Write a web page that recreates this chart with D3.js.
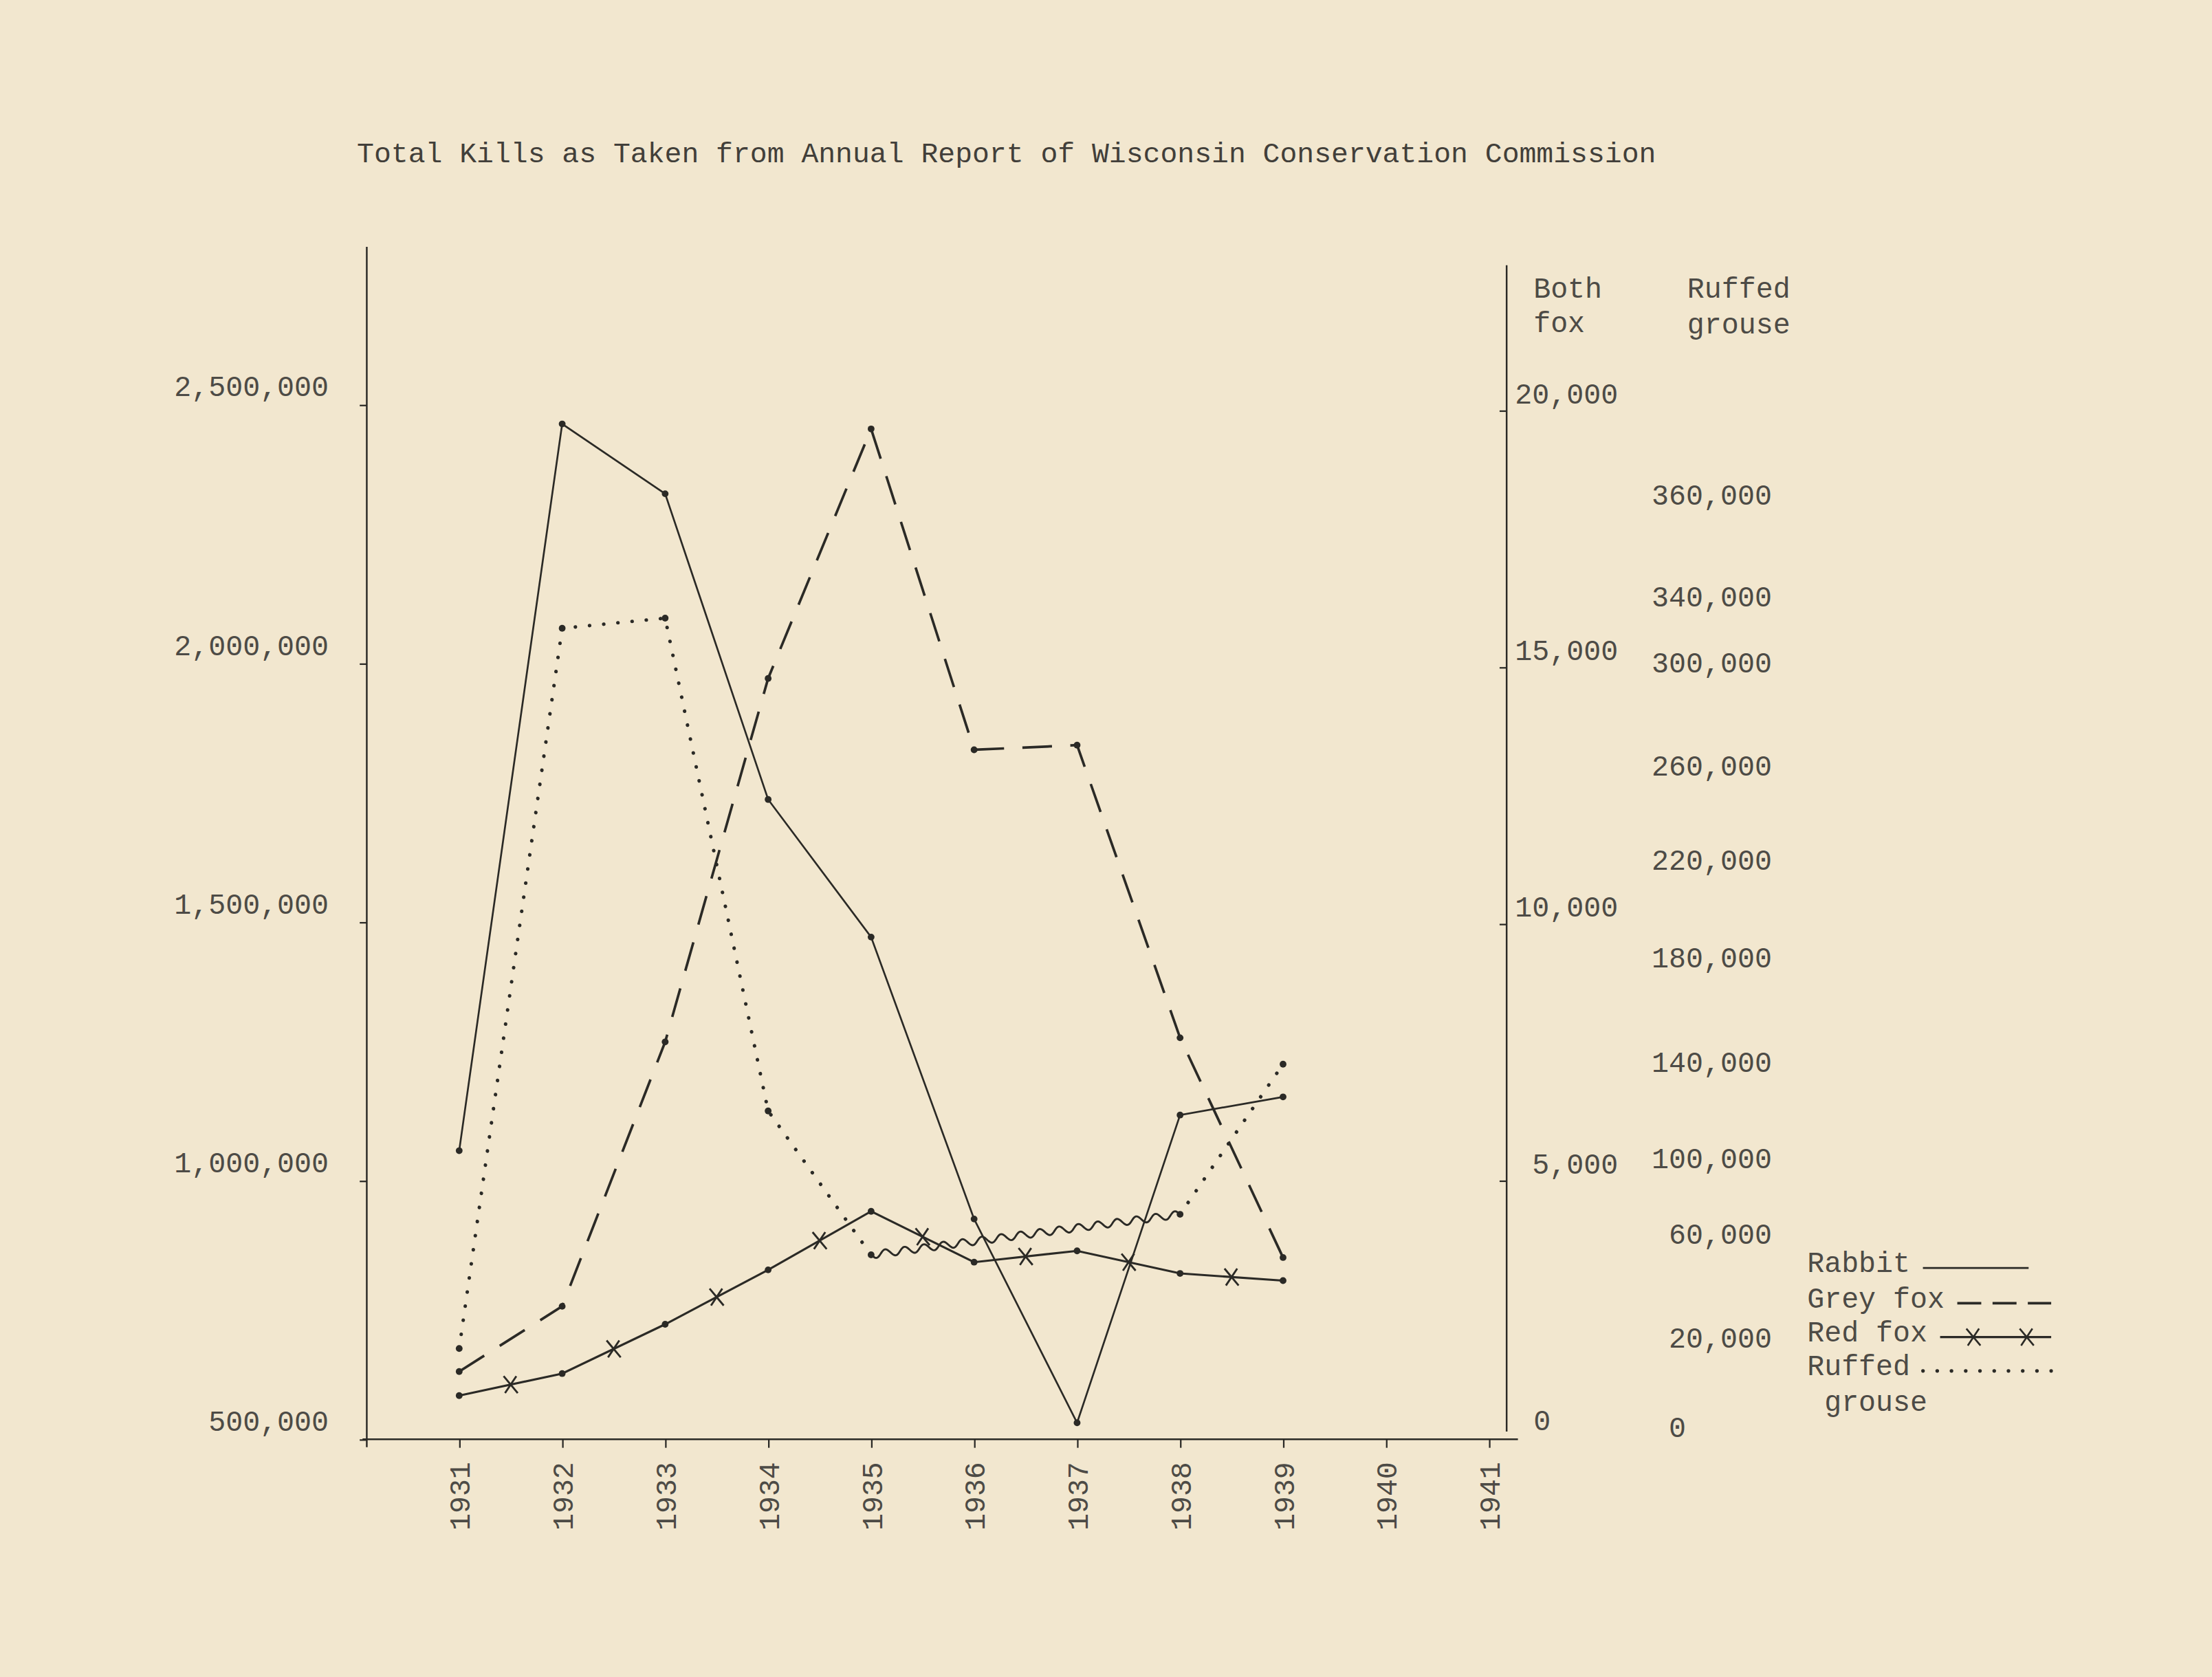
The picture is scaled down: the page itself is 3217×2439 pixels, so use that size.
<!DOCTYPE html>
<html>
<head>
<meta charset="utf-8">
<script src="https://cdn.jsdelivr.net/npm/d3@7"></script>
<style>
  html, body { margin: 0; padding: 0; background: #f2e7cf; }
  svg { display: block; }
  text { font-family: "Liberation Mono", "DejaVu Sans Mono", monospace; fill: #4d4b46; }
</style>
</head>
<body>
<div id="chart"></div>
<script>
'use strict';

// ── Data ─────────────────────────────────────────────
var years = ['1931', '1932', '1933', '1934', '1935', '1936', '1937', '1938', '1939'];
var axisYears = ['1931', '1932', '1933', '1934', '1935', '1936', '1937', '1938', '1939', '1940', '1941'];

var rabbit  = [1058000, 2463000, 2328000, 1737000, 1471000, 926000, 532000, 1127000, 1162000];
var greyFox = [1280, 2550, 7700, 14780, 19640, 13390, 13480, 7780, 3500];
var redFox  = [810, 1240, 2200, 3260, 4400, 3410, 3630, 3190, 3050];
// no grouse season 1936-37: drawn as a wavy bridge
var grouse  = [17600, 320900, 327000, 119700, 52000, null, null, 70500, 139000];

var leftTicks   = [500000, 1000000, 1500000, 2000000, 2500000];
var foxTicks    = [0, 5000, 10000, 15000, 20000];
var grouseTicks = [0, 20000, 60000, 100000, 140000, 180000, 220000, 260000, 300000, 340000, 360000];

var title = 'Total Kills as Taken from Annual Report of Wisconsin Conservation Commission';
var foxHeader = ['Both', 'fox'];
var grouseHeader = ['Ruffed', 'grouse'];
var legendLabels = [['Rabbit'], ['Grey fox'], ['Red fox'], ['Ruffed', ' grouse']];

// ── Layout (in sheet units, scaled up by the viewBox) ─
var W = 1568, H = 1189;
var INK = '#2b2a26';
var FS = 20.3;                 // typewriter pitch ~12.2 per char
var CH = FS * 0.6;
var axisX = 260, axisRightX = 1068, axisY = 1020.5;
// the grouse column was typed at uneven spacing, so its scale is piecewise
var grouseTickY = [1011.8, 948.5, 875, 821.5, 752.8, 679, 609.7, 543, 470, 423, 351];

var x = d3.scalePoint().domain(axisYears).range([325.5, 1055.5]);
var yLeft = d3.scaleLinear().domain([500000, 2500000]).range([axisY, 287]);
var yFox = d3.scaleLinear().domain([0, 20000]).range([1019, 291]);
var yGrouse = d3.scaleLinear().domain(grouseTicks).range(grouseTickY);
var fmt = d3.format(',');

var svg = d3.select('#chart').append('svg')
  .attr('width', 3217)
  .attr('height', 2439)
  .attr('viewBox', '0 0 ' + W + ' ' + H)
  .attr('preserveAspectRatio', 'none');

svg.append('rect').attr('width', W).attr('height', H).attr('fill', '#f2e7cf');

// Title
svg.append('text')
  .attr('x', 253).attr('y', 115)
  .attr('font-size', 20.2)
  .style('fill', '#423f3a')
  .text(title);

// ── Axis lines ────────────────────────────────────
var axes = svg.append('g').attr('stroke', INK).attr('stroke-width', 1.2);
axes.append('line').attr('x1', axisX).attr('x2', axisX).attr('y1', 175).attr('y2', 1026);
axes.append('line').attr('x1', axisX - 3).attr('x2', 1076).attr('y1', axisY).attr('y2', axisY);
axes.append('line').attr('x1', axisRightX).attr('x2', axisRightX).attr('y1', 188).attr('y2', 1015);

function styleAxis(g) {
  g.attr('font-family', null).attr('font-size', FS);
  g.select('.domain').remove();
  g.selectAll('.tick line').attr('stroke', INK).attr('stroke-width', 1.1);
  g.selectAll('.tick text').attr('fill', null);
}

// Left axis: rabbit
var gLeft = svg.append('g')
  .attr('transform', 'translate(' + axisX + ',0)')
  .call(d3.axisLeft(yLeft).tickValues(leftTicks).tickSize(5).tickPadding(22).tickFormat(fmt))
  .call(styleAxis);
gLeft.selectAll('.tick text').attr('y', -13);

// Bottom axis: years, typed sideways
var gBottom = svg.append('g')
  .attr('transform', 'translate(0,' + axisY + ')')
  .call(d3.axisBottom(x).tickSize(6))
  .call(styleAxis);
gBottom.selectAll('.tick text')
  .attr('transform', 'rotate(-90)')
  .attr('x', -16).attr('y', 0).attr('dy', '0.35em')
  .attr('text-anchor', 'end');

// Right axis: both fox
var gFox = svg.append('g')
  .attr('transform', 'translate(' + axisRightX + ',0)')
  .call(d3.axisRight(yFox).tickValues(foxTicks).tickSize(-5).tickPadding(7).tickFormat(fmt))
  .call(styleAxis);
gFox.selectAll('.tick text')
  .attr('y', -12)
  .attr('text-anchor', function (d) { return d === 0 ? 'start' : 'end'; })
  .attr('x', function (d) { return d === 0 ? 1087 - axisRightX : 1147 - axisRightX; });
gFox.selectAll('.tick').filter(function (d) { return d === 0; }).select('line').remove();

// Grouse column (labels only)
var gGrouse = svg.append('g')
  .attr('transform', 'translate(1256,0)')
  .call(d3.axisRight(yGrouse).tickValues(grouseTicks).tickSize(0).tickPadding(0).tickFormat(fmt))
  .call(styleAxis);
gGrouse.selectAll('.tick text')
  .attr('text-anchor', function (d) { return d === 0 ? 'start' : 'end'; })
  .attr('x', function (d) { return d === 0 ? -6 * CH : 0; });

// Column headers
svg.selectAll('text.fox-head').data(foxHeader).join('text')
  .attr('class', 'fox-head')
  .attr('x', 1087).attr('y', function (d, i) { return 204 + i * 24.5; })
  .attr('dy', '0.35em').attr('font-size', FS)
  .text(function (d) { return d; });
svg.selectAll('text.grouse-head').data(grouseHeader).join('text')
  .attr('class', 'grouse-head')
  .attr('x', 1196).attr('y', function (d, i) { return 204 + i * 25.5; })
  .attr('dy', '0.35em').attr('font-size', FS)
  .text(function (d) { return d; });

// ── Series ────────────────────────────────────────
function points(vals, scale) {
  return years.map(function (yr, i) {
    return { year: yr, v: vals[i], x: x(yr), y: vals[i] == null ? null : scale(vals[i]) };
  });
}

var series = [
  { key: 'rabbit', pts: points(rabbit, yLeft), width: 1.3, dash: null },
  { key: 'greyFox', pts: points(greyFox, yFox), width: 1.8, dash: '21 13' },
  { key: 'redFox', pts: points(redFox, yFox), width: 1.5, dash: null },
  { key: 'grouse', pts: points(grouse, yGrouse), width: 2.5, dash: '0.1 10' }
];

var line = d3.line()
  .defined(function (d) { return d.v != null; })
  .x(function (d) { return d.x; })
  .y(function (d) { return d.y; });

var gSeries = svg.append('g').attr('fill', 'none').attr('stroke', INK);

series.forEach(function (s) {
  gSeries.append('path')
    .attr('class', 'line-' + s.key)
    .attr('d', line(s.pts))
    .attr('stroke-width', s.width)
    .attr('stroke-linecap', s.key === 'grouse' ? 'round' : 'butt')
    .attr('stroke-dasharray', s.dash);
});

// Wavy bridge across the closed grouse seasons
function wavePoints(a, b, waveLen, amp) {
  var dx = b.x - a.x, dy = b.y - a.y, len = Math.hypot(dx, dy);
  var ux = dx / len, uy = dy / len;
  var n = Math.max(1, Math.round(len / waveLen));
  var out = [];
  for (var s = 0; s <= len; s += 0.8) {
    var off = amp * Math.sin(2 * Math.PI * s * n / len);
    out.push([a.x + ux * s - uy * off, a.y + uy * s + ux * off]);
  }
  return out;
}
var gPts = series[3].pts;
for (var i = 0; i < gPts.length - 1; i++) {
  if (gPts[i].v != null && gPts[i + 1].v == null) {
    var j = i + 1;
    while (j < gPts.length && gPts[j].v == null) j++;
    if (j < gPts.length) {
      gSeries.append('path')
        .attr('d', d3.line()(wavePoints(gPts[i], gPts[j], 13.5, 2.6)))
        .attr('stroke-width', 1.4);
    }
  }
}

// Dots at each reading
series.forEach(function (s) {
  svg.append('g').selectAll('circle')
    .data(s.pts.filter(function (d) { return d.v != null; }))
    .join('circle')
    .attr('cx', function (d) { return d.x; })
    .attr('cy', function (d) { return d.y; })
    .attr('r', 2.4)
    .attr('fill', INK);
});

// Red fox crosses between readings
var crossPath = 'M-5,-6L5,6M4,-6L-4,6';
var rf = series[2].pts;
var mids = d3.pairs(rf).map(function (p) {
  return { x: (p[0].x + p[1].x) / 2, y: (p[0].y + p[1].y) / 2 };
});
svg.append('g').selectAll('path')
  .data(mids)
  .join('path')
  .attr('transform', function (d) { return 'translate(' + d.x + ',' + d.y + ')'; })
  .attr('d', crossPath)
  .attr('fill', 'none')
  .attr('stroke', INK)
  .attr('stroke-width', 1.4);

// ── Legend ───────────────────────────────────────
var legendX = 1281, legendEnd = 1454;
var legendRowY = [895, 920, 944, 968];
var gLegend = svg.append('g');
legendLabels.forEach(function (lines, i) {
  var s = series[i];
  var y0 = legendRowY[i];
  lines.forEach(function (t, k) {
    gLegend.append('text')
      .attr('x', legendX).attr('y', y0 + k * 25)
      .attr('dy', '0.35em').attr('font-size', FS)
      .style('white-space', 'pre')
      .text(t);
  });
  var x0 = legendX + lines[0].length * CH + 9;
  var ly = y0 + 4;
  gLegend.append('line')
    .attr('x1', x0).attr('x2', i === 0 ? 1438 : legendEnd)
    .attr('y1', ly).attr('y2', ly)
    .attr('stroke', INK)
    .attr('stroke-width', s.width)
    .attr('stroke-linecap', s.key === 'grouse' ? 'round' : 'butt')
    .attr('stroke-dasharray', s.key === 'greyFox' ? '17 8' : s.dash);
  if (s.key === 'redFox') {
    gLegend.selectAll('path.lx').data([0.3, 0.78]).join('path')
      .attr('class', 'lx')
      .attr('transform', function (f) { return 'translate(' + (x0 + f * (legendEnd - x0)) + ',' + ly + ')'; })
      .attr('d', crossPath)
      .attr('fill', 'none').attr('stroke', INK).attr('stroke-width', 1.3);
  }
});
</script>
</body>
</html>
